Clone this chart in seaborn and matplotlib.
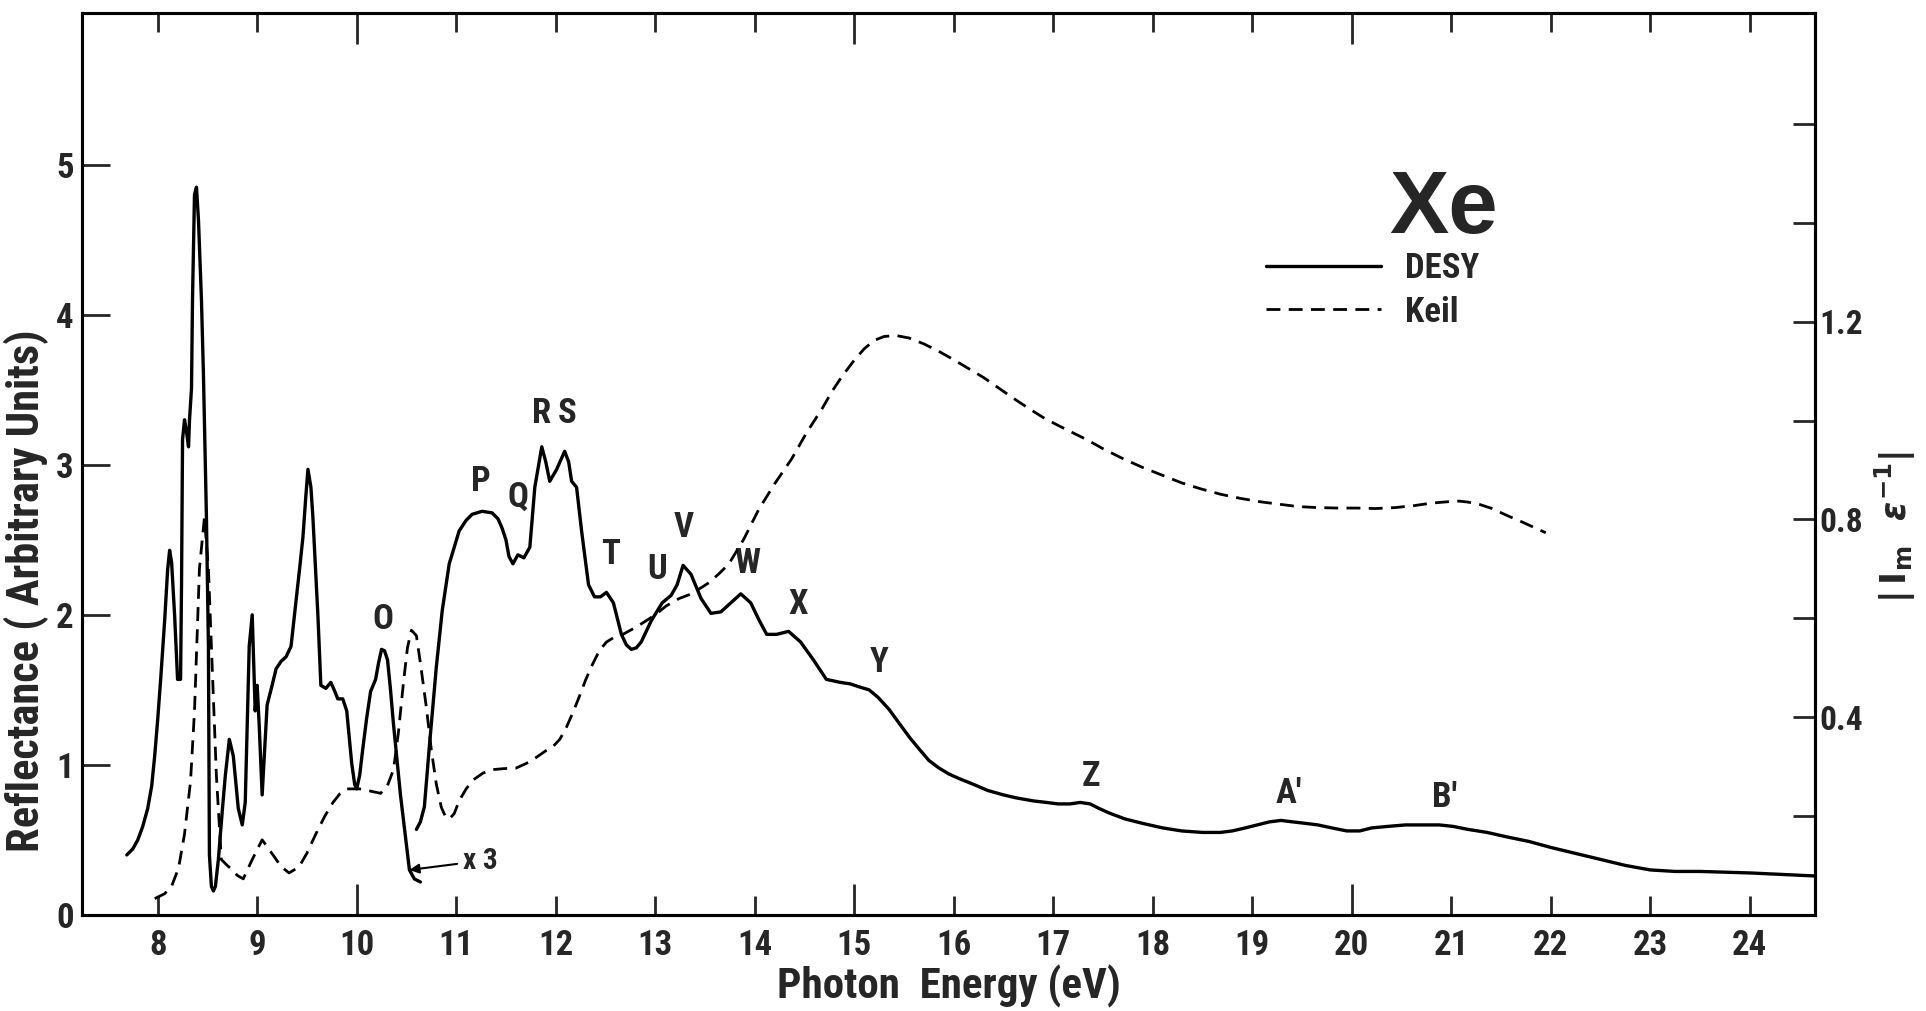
import os
import matplotlib
matplotlib.use("Agg")
import matplotlib.pyplot as plt
from matplotlib import font_manager as fm
import seaborn as sns
import pandas as pd

# ---------------- data ----------------
# DESY reflectance, first segment (arbitrary units, left axis)
desy_e1 = [7.69, 7.75, 7.80, 7.85, 7.90, 7.94, 7.97, 8.00, 8.03, 8.07, 8.10, 8.12, 8.14,
           8.17, 8.20, 8.23, 8.24, 8.25, 8.27, 8.29, 8.31, 8.32, 8.34, 8.35, 8.37, 8.39,
           8.41, 8.44, 8.46, 8.49, 8.51, 8.52, 8.54, 8.56, 8.58, 8.61, 8.65, 8.68, 8.72,
           8.76, 8.81, 8.85, 8.88, 8.92, 8.95, 8.98, 9.00, 9.02, 9.05, 9.10, 9.15, 9.19,
           9.24, 9.29, 9.34, 9.39, 9.43, 9.46, 9.49, 9.51, 9.54, 9.56, 9.61, 9.64, 9.69,
           9.74, 9.78, 9.81, 9.86, 9.90, 9.95, 9.98, 10.00, 10.03, 10.06, 10.10, 10.14,
           10.19, 10.22, 10.25, 10.28, 10.31, 10.34, 10.37, 10.44, 10.53, 10.58, 10.64]
desy_r1 = [0.40, 0.44, 0.50, 0.59, 0.71, 0.86, 1.06, 1.30, 1.57, 1.96, 2.30, 2.43, 2.35,
           2.00, 1.57, 1.57, 2.22, 3.17, 3.30, 3.22, 3.12, 3.30, 3.51, 4.10, 4.80, 4.85,
           4.63, 4.10, 3.60, 2.65, 1.79, 0.40, 0.19, 0.16, 0.19, 0.37, 0.70, 0.93, 1.17,
           1.06, 0.71, 0.60, 0.75, 1.79, 2.00, 1.36, 1.53, 1.27, 0.80, 1.40, 1.53, 1.64,
           1.69, 1.72, 1.79, 2.09, 2.33, 2.52, 2.80, 2.97, 2.85, 2.65, 2.00, 1.53, 1.51,
           1.55, 1.49, 1.44, 1.44, 1.36, 1.01, 0.87, 0.84, 0.93, 1.10, 1.31, 1.49,
           1.57, 1.68, 1.77, 1.76, 1.70, 1.50, 1.27, 0.80, 0.30, 0.24, 0.22]

# DESY reflectance, second segment (plotted x3)
desy_e2 = [10.60, 10.64, 10.68, 10.73, 10.80, 10.86, 10.93, 11.03, 11.10, 11.16, 11.26,
           11.36, 11.42, 11.46, 11.50, 11.53, 11.57, 11.62, 11.68, 11.74, 11.79, 11.86,
           11.90, 11.94, 12.01, 12.09, 12.13, 12.16, 12.21, 12.26, 12.33, 12.39, 12.45,
           12.51, 12.58, 12.66, 12.71, 12.76, 12.81, 12.86, 12.96, 13.07, 13.16, 13.22,
           13.28, 13.36, 13.46, 13.56, 13.66, 13.76, 13.86, 13.96, 14.04, 14.12, 14.22,
           14.34, 14.46, 14.59, 14.72, 14.86, 14.96, 15.05, 15.15, 15.24, 15.35, 15.46,
           15.56, 15.66, 15.75, 15.85, 15.95, 16.05, 16.20, 16.34, 16.50, 16.63, 16.80,
           16.93, 17.05, 17.17, 17.27, 17.37, 17.46, 17.56, 17.72, 17.90, 18.10, 18.29,
           18.50, 18.68, 18.80, 18.93, 19.05, 19.17, 19.29, 19.41, 19.54, 19.66, 19.80,
           19.95, 20.08, 20.20, 20.36, 20.54, 20.70, 20.88, 21.02, 21.17, 21.36, 21.56,
           21.78, 22.00, 22.25, 22.50, 22.75, 23.00, 23.25, 23.50, 24.00, 24.65]
desy_r2 = [0.57, 0.62, 0.72, 1.12, 1.65, 2.03, 2.34, 2.56, 2.63, 2.67, 2.69,
           2.68, 2.64, 2.58, 2.50, 2.39, 2.34, 2.40, 2.38, 2.45, 2.85, 3.12,
           3.02, 2.89, 2.97, 3.09, 3.02, 2.89, 2.85, 2.56, 2.20, 2.12, 2.12,
           2.15, 2.08, 1.87, 1.80, 1.77, 1.78, 1.82, 1.96, 2.08, 2.13, 2.20,
           2.33, 2.27, 2.11, 2.01, 2.02, 2.08, 2.14, 2.08, 1.97, 1.87, 1.87,
           1.89, 1.82, 1.70, 1.57, 1.55, 1.54, 1.52, 1.50, 1.45, 1.37, 1.27,
           1.18, 1.10, 1.03, 0.98, 0.94, 0.91, 0.87, 0.83, 0.80, 0.78, 0.76,
           0.75, 0.74, 0.74, 0.75, 0.74, 0.71, 0.68, 0.64, 0.61, 0.58, 0.56,
           0.55, 0.55, 0.56, 0.58, 0.60, 0.62, 0.63, 0.62, 0.61, 0.60, 0.58,
           0.56, 0.56, 0.58, 0.59, 0.60, 0.60, 0.60, 0.59, 0.57, 0.55, 0.52,
           0.49, 0.45, 0.41, 0.37, 0.33, 0.30, 0.29, 0.29, 0.28, 0.26]

# Keil: |Im eps^-1| (right axis)
keil_e = [7.97, 8.07, 8.14, 8.21, 8.27, 8.33, 8.37, 8.42, 8.47, 8.51, 8.54, 8.59, 8.64,
          8.70, 8.75, 8.80, 8.86, 8.95, 9.05, 9.15, 9.24, 9.32, 9.42, 9.50, 9.59, 9.68,
          9.76, 9.83, 9.90, 10.03, 10.15, 10.24, 10.31, 10.37, 10.42, 10.47, 10.51, 10.55,
          10.60, 10.64, 10.70, 10.75, 10.80, 10.85, 10.89, 10.93, 10.98, 11.03, 11.10,
          11.17, 11.27, 11.37, 11.48, 11.60, 11.70, 11.80, 11.90, 11.97, 12.04, 12.10,
          12.17, 12.24, 12.30, 12.37, 12.44, 12.51, 12.59, 12.67, 12.77, 12.87, 13.00,
          13.11, 13.24, 13.37, 13.54, 13.64, 13.74, 13.89, 14.04, 14.20, 14.37, 14.52,
          14.68, 14.78, 14.88, 15.00, 15.10, 15.20, 15.30, 15.42, 15.55, 15.70, 15.85,
          16.00, 16.15, 16.30, 16.45, 16.60, 16.75, 16.90, 17.05, 17.20, 17.35, 17.50,
          17.70, 17.90, 18.10, 18.29, 18.48, 18.68, 18.87, 19.07, 19.26, 19.46, 19.65,
          19.85, 20.05, 20.24, 20.44, 20.63, 20.80, 20.98, 21.08, 21.17, 21.29, 21.41,
          21.56, 21.71, 21.83, 21.95]
keil_im = [0.033, 0.043, 0.058, 0.095, 0.164, 0.270, 0.412, 0.701, 0.804, 0.700, 0.543,
           0.282, 0.112, 0.100, 0.091, 0.080, 0.073, 0.112, 0.152, 0.124, 0.098, 0.085,
           0.097, 0.125, 0.164, 0.200, 0.227, 0.245, 0.255, 0.255, 0.250, 0.246, 0.262,
           0.294, 0.370, 0.470, 0.540, 0.576, 0.565, 0.510, 0.420, 0.334, 0.265, 0.218,
           0.200, 0.194, 0.205, 0.231, 0.255, 0.273, 0.287, 0.294, 0.296, 0.297, 0.306,
           0.318, 0.332, 0.340, 0.355, 0.376, 0.408, 0.443, 0.475, 0.507, 0.535, 0.552,
           0.562, 0.567, 0.578, 0.590, 0.607, 0.625, 0.640, 0.650, 0.672, 0.690, 0.710,
           0.760, 0.820, 0.872, 0.922, 0.975, 1.025, 1.060, 1.090, 1.122, 1.145, 1.162,
           1.170, 1.172, 1.167, 1.155, 1.140, 1.123, 1.105, 1.087, 1.066, 1.045, 1.025,
           1.006, 0.990, 0.975, 0.960, 0.943, 0.923, 0.905, 0.889, 0.874, 0.862, 0.851,
           0.843, 0.836, 0.831, 0.826, 0.824, 0.823, 0.823, 0.822, 0.824, 0.828, 0.833,
           0.836, 0.837, 0.835, 0.830, 0.822, 0.808, 0.795, 0.784, 0.773]

# peak designations
peak_names = ["O", "P", "Q", "R", "S", "T", "U", "V", "W", "X", "Y", "Z", "A'", "B'"]
peak_e = [10.26, 11.25, 11.62, 11.86, 12.11, 12.55, 13.02, 13.29, 13.92, 14.44, 15.25,
          17.38, 19.37, 20.93]
peak_r = [1.97, 2.89, 2.78, 3.34, 3.34, 2.40, 2.30, 2.58, 2.34, 2.07, 1.68,
          0.92, 0.81, 0.78]

x_ticks = list(range(8, 25))
y_ticks = [0, 1, 2, 3, 4, 5]
right_ticks = [0.2, 0.4, 0.6, 0.8, 1.0, 1.2, 1.4, 1.6]
right_labels = ["", "0.4", "", "0.8", "", "1.2", "", ""]

# ---------------- fonts ----------------
sns.set_style("white")


def pick_narrow_bold():
    wanted = ["liberationsansnarrowbold", "notosansextracondensedbold",
              "notosanscondensedbold", "robotocondensedbold",
              "opensanscondensedbold", "dejavusanscondensedbold"]
    files = set(f.fname for f in fm.fontManager.ttflist)
    try:
        files |= set(fm.findSystemFonts())
    except Exception:
        pass
    norm = {}
    for p in files:
        b = os.path.splitext(os.path.basename(p))[0].lower()
        b = b.replace("-", "").replace("_", "").replace(" ", "")
        norm.setdefault(b, p)
    for w in wanted:
        if w in norm:
            return norm[w]
    return None


NARROW_FILE = pick_narrow_bold()


def fp(size):
    if NARROW_FILE:
        return fm.FontProperties(fname=NARROW_FILE, size=size)
    return fm.FontProperties(family="DejaVu Sans", weight="bold", size=size,
                             stretch="condensed")


plt.rcParams["font.family"] = ["DejaVu Sans"]
plt.rcParams["font.weight"] = "bold"

fig = plt.figure(figsize=(19.26, 10.11), dpi=100)
ax = fig.add_axes([0.0426, 0.095, 0.9, 0.892])
ax2 = ax.twinx()

df1 = pd.DataFrame({"E": desy_e1, "R": desy_r1})
df2 = pd.DataFrame({"E": desy_e2, "R": desy_r2})
dk = pd.DataFrame({"E": keil_e, "Im": keil_im})

sns.lineplot(data=df1, x="E", y="R", ax=ax, color="black", lw=2.4, sort=False,
             estimator=None)
sns.lineplot(data=df2, x="E", y="R", ax=ax, color="black", lw=2.4, sort=False,
             estimator=None)
sns.lineplot(data=dk, x="E", y="Im", ax=ax2, color="black", lw=2.0, sort=False,
             estimator=None)
desy_line = ax.lines[0]
keil_line = ax2.lines[-1]
keil_line.set_dashes([5, 3])
for ln in ax.lines + ax2.lines:
    ln.set_solid_joinstyle("round")
    ln.set_dash_joinstyle("round")

ax.set_xlim(7.24, 24.66)
ax.set_ylim(0, 6.01)
ax2.set_ylim(0, 1.824)

for a in (ax, ax2):
    for s in a.spines.values():
        s.set_linewidth(2.2)
        s.set_color("black")

ax.set_xticks(x_ticks)
ax.set_xticklabels([str(t) for t in x_ticks])
ax.set_yticks(y_ticks)
ax.set_yticklabels([str(t) for t in y_ticks])
ax.tick_params(axis="x", direction="in", length=14, width=2, top=True, bottom=True,
               pad=10)
ax.tick_params(axis="y", direction="in", length=20, width=2, left=True, right=False,
               pad=6)
for t in ax.xaxis.get_major_ticks():
    if t.get_loc() in (10, 15, 20):
        t.tick1line.set_markersize(22)
        t.tick2line.set_markersize(22)
for lbl in ax.get_xticklabels() + ax.get_yticklabels():
    lbl.set_fontproperties(fp(25))

ax2.set_yticks(right_ticks)
ax2.set_yticklabels(right_labels)
ax2.tick_params(axis="y", direction="in", length=16, width=2, right=True, pad=3)
for lbl in ax2.get_yticklabels():
    lbl.set_fontproperties(fp(24))

ax.set_xlabel("Photon  Energy (eV)", fontproperties=fp(31))
ax.xaxis.set_label_coords(0.5, -0.055)
ax.set_ylabel("Reflectance ( Arbitrary Units)", fontproperties=fp(32))
ax.yaxis.set_label_coords(-0.019, 0.36)

ax2.set_ylabel(r"$|\,\mathbf{I}_{\mathbf{m}}\ \ \varepsilon^{-1}|$", fontsize=25,
               rotation=90)
ax2.yaxis.set_label_coords(1.033, 0.43)

for name, e, r in zip(peak_names, peak_e, peak_r):
    ax.text(e, r, name, fontproperties=fp(25), ha="center", va="center")

ax.annotate("x 3", xy=(desy_e1[-3], desy_r1[-3]), xytext=(11.07, 0.36),
            fontproperties=fp(21), ha="left", va="center",
            arrowprops=dict(arrowstyle="-|>", color="black", lw=1.5,
                            mutation_scale=14, shrinkA=2, shrinkB=0))

ax.text(20.92, 4.70, "Xe", fontsize=64, fontweight="bold", ha="center", va="center",
        family=["Liberation Sans", "DejaVu Sans"])

ax.legend([desy_line, keil_line], ["DESY", "Keil"], loc="upper left",
          bbox_to_anchor=(0.683, 0.735), frameon=False, prop=fp(25),
          handlelength=3.3, handletextpad=0.7, labelspacing=0.3,
          borderpad=0, borderaxespad=0)

fig.savefig("out.png", dpi=100, facecolor="white")
